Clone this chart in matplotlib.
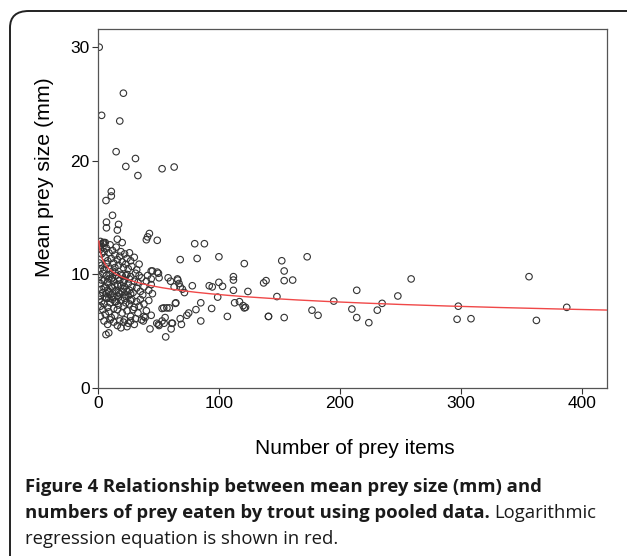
import numpy as np
import matplotlib.pyplot as plt
from matplotlib.patches import FancyBboxPatch

# number of prey items vs mean prey size (mm)
prey_count = [
    # sparse high values
    1, 21, 3, 18, 15, 31, 23, 33, 53, 63, 11, 11, 6.6,
    12, 7, 7, 17, 16, 40, 41, 42.5, 16, 20, 5, 49, 80, 88, 68, 82, 100,
    4.4, 2.2, 45, 50, 50.5, 58, 60, 66, 67, 78, 71.5, 68, 92, 94.5, 100,
    103, 112, 112, 112, 124, 137, 139, 121, 99, 85, 81, 94, 107,
    113, 117, 120, 121, 122, 141, 64, 57, 59, 53, 75, 73.5, 85, 68,
    61.6, 60.5, 55.5, 54.7, 48.6, 50.5, 43, 56, 6.6, 8.9, 37.5, 38,
    44, 49, 44, 65.7, 69.8, 63, 64.4, 54.4, 50, 53, 69, 61,
    # right tail
    152, 154, 154, 161, 173, 148, 141, 154, 177, 182, 195, 210, 214,
    214, 224, 231, 235, 248, 259, 298, 297, 308.5, 356.5, 362.6, 387.7,
    # dense block, upper part
    1, 2, 3, 4, 5, 6, 7, 8, 9, 10, 11, 12, 13, 14, 15, 16, 17, 18, 19,
    20, 21, 22, 23, 24, 25, 26, 27, 28, 30, 32, 34, 3, 5, 7, 9, 12, 14,
    1, 2, 2, 4, 6,
    # dense block, middle
    1, 2, 3, 4, 5, 6, 7, 8, 9, 10, 11, 12, 13, 14, 15, 16, 17, 18, 19,
    20, 21, 22, 23, 24, 25, 26, 27, 28, 29, 30, 31, 32, 33, 35, 36, 38,
    40, 42, 44, 2, 4, 6, 8, 10, 13, 15, 17, 19, 21, 23, 25, 27, 11, 14,
    18, 22, 26, 24, 20, 16, 12, 9, 7, 5, 3, 34, 37, 41, 45,
    # dense block, lower part
    1, 2, 3, 4, 5, 6, 7, 8, 9, 10, 11, 12, 13, 14, 15, 16, 17, 18, 19,
    20, 21, 22, 23, 24, 25, 26, 27, 28, 29, 30, 31, 32, 33, 34, 36, 38,
    40, 42, 44, 2, 5, 8, 10, 13, 16, 19, 21, 24, 27, 30, 9, 14, 17, 22,
    27, 35, 39,
]
prey_size = [
    30.0, 25.95, 24.0, 23.5, 20.8, 20.2, 19.5, 18.7, 19.3, 19.45, 17.3, 16.9, 16.5,
    15.2, 14.6, 14.1, 14.4, 13.9, 13.05, 13.3, 13.6, 13.1, 12.8, 12.8, 13.0, 12.7, 12.7, 11.3, 11.4, 11.55,
    12.8, 12.6, 10.3, 10.1, 9.7, 9.7, 9.4, 9.5, 9.2, 9.0, 8.4, 8.9, 9.0, 8.9, 9.3,
    8.95, 9.8, 9.5, 8.6, 8.5, 9.25, 9.45, 10.95, 8.0, 7.5, 6.9, 7.0, 6.3,
    7.5, 7.6, 7.25, 7.05, 7.1, 6.3, 7.45, 7.05, 7.05, 7.0, 6.6, 6.4, 5.9, 6.1,
    5.7, 5.2, 6.2, 5.7, 5.7, 5.5, 5.2, 4.5, 4.7, 4.85, 5.9, 6.3,
    10.3, 10.2, 9.6, 9.6, 8.7, 8.9, 7.5, 7.05, 5.6, 5.9, 5.6, 5.7,
    11.2, 10.3, 9.45, 9.5, 11.55, 8.05, 6.3, 6.2, 6.85, 6.4, 7.65, 6.95, 8.6,
    6.2, 5.75, 6.85, 7.45, 8.1, 9.6, 7.2, 6.05, 6.1, 9.8, 5.95, 7.1,
    12.5, 12.2, 11.8, 12.7, 12.0, 11.5, 12.3, 11.2, 11.9, 12.6, 11.4, 12.1, 11.0, 11.7, 12.4, 11.3, 10.8, 11.6, 12.0,
    11.1, 10.6, 11.8, 10.9, 11.4, 10.5, 11.9, 11.2, 10.7, 11.5, 10.4, 10.9, 10.8, 10.4, 10.9, 10.5, 10.3, 10.6,
    11.0, 10.5, 12.9, 12.4, 12.8,
    9.8, 9.2, 8.7, 10.1, 9.5, 8.9, 9.9, 9.3, 8.5, 10.0, 9.6, 8.8, 9.4, 10.2, 8.6, 9.1, 9.7, 8.3, 9.0,
    9.9, 8.7, 9.5, 8.2, 10.0, 9.2, 8.6, 9.8, 8.9, 8.4, 9.4, 10.1, 8.8, 9.3, 8.5, 9.7, 8.9,
    9.4, 8.6, 9.1, 8.1, 8.4, 8.0, 8.6, 8.2, 8.0, 9.9, 8.4, 10.0, 9.3, 9.9, 8.1, 8.3, 8.9, 9.0,
    9.5, 8.9, 9.6, 8.5, 8.5, 8.1, 9.7, 9.6, 8.3, 8.8, 9.5, 9.9, 8.2, 9.9, 8.3,
    7.8, 7.2, 7.6, 6.9, 7.4, 6.5, 7.9, 7.1, 6.7, 7.5, 6.2, 7.8, 7.0, 6.4, 7.6, 6.9, 7.3, 5.9, 7.7,
    6.6, 7.2, 6.0, 7.5, 6.8, 5.7, 7.4, 6.3, 7.8, 6.9, 7.1, 6.1, 7.6, 6.6, 7.2, 6.0, 7.4,
    6.8, 7.7, 6.4, 6.3, 5.9, 5.6, 6.0, 5.8, 5.5, 5.3, 5.8, 5.4, 5.9, 5.6, 7.9, 7.6, 8.0, 7.9,
    7.7, 7.8, 6.2,
]

# logarithmic regression: size = a + b * ln(count)
reg_a = 12.6
reg_b = -0.95

x_ticks = [0, 100, 200, 300, 400]
y_ticks = [0, 10, 20, 30]

caption_1 = 'Figure 4 Relationship between mean prey size (mm) and'
caption_2 = 'numbers of prey eaten by trout using pooled data.'
caption_2b = 'Logarithmic'
caption_3 = 'regression equation is shown in red.'


def main():
    plt.rcParams['font.family'] = ['Liberation Sans', 'DejaVu Sans']
    fig = plt.figure(figsize=(6.27, 5.56), dpi=100)

    ax = fig.add_axes([98 / 627, 1 - 388 / 556, 509 / 627, 359 / 556])
    ax.scatter(prey_count, prey_size, s=22, facecolors='none',
               edgecolors='#333333', linewidths=0.8, zorder=2)

    xs = np.linspace(0.7, 421, 600)
    ax.plot(xs, reg_a + reg_b * np.log(xs), color='#f04848', lw=1.0, zorder=3)

    ax.set_xlim(0, 421)
    ax.set_ylim(0, 31.6)
    ax.set_xticks(x_ticks)
    ax.set_yticks(y_ticks)
    ax.tick_params(direction='out', length=4, width=0.8, labelsize=12.5,
                   color='#333333', pad=2)
    for side in ax.spines.values():
        side.set_color('#555555')
        side.set_linewidth(0.9)

    ax.set_xlabel('Number of prey items', fontsize=15)
    ax.xaxis.set_label_coords(254 / 509 + 0.005, -(448 - 388) / 359, transform=ax.transAxes)
    ax.xaxis.label.set_va('center')
    ax.set_ylabel('Mean prey size (mm)', fontsize=15.3)
    ax.yaxis.set_label_coords(-(98 - 45) / 509, (388 - 177) / 359, transform=ax.transAxes)
    ax.yaxis.label.set_va('center')

    # rounded frame around the figure panel
    frame = FancyBboxPatch((10 / 627, -0.05), 1.2, 1 - 11 / 556 + 0.05,
                           boxstyle='round,pad=0,rounding_size=0.03',
                           transform=fig.transFigure, fill=False,
                           edgecolor='#222222', linewidth=1.4)
    fig.patches.append(frame)

    cap = dict(family=['Open Sans', 'DejaVu Sans'], fontsize=13.3, color='#1a1a1a')
    left = 25 / 627
    fig.text(left, 1 - 487 / 556, caption_1, weight='bold', va='center', **cap)
    t2 = fig.text(left, 1 - 513 / 556, caption_2, weight='bold', va='center', **cap)
    fig.canvas.draw()
    bb = t2.get_window_extent()
    fig.text(bb.x1 / fig.bbox.width + 5 / 627, 1 - 513 / 556, caption_2b,
             va='center', **cap)
    fig.text(left, 1 - 539 / 556, caption_3, va='center', **cap)

    fig.savefig('out.png', dpi=100)


if __name__ == '__main__':
    main()
